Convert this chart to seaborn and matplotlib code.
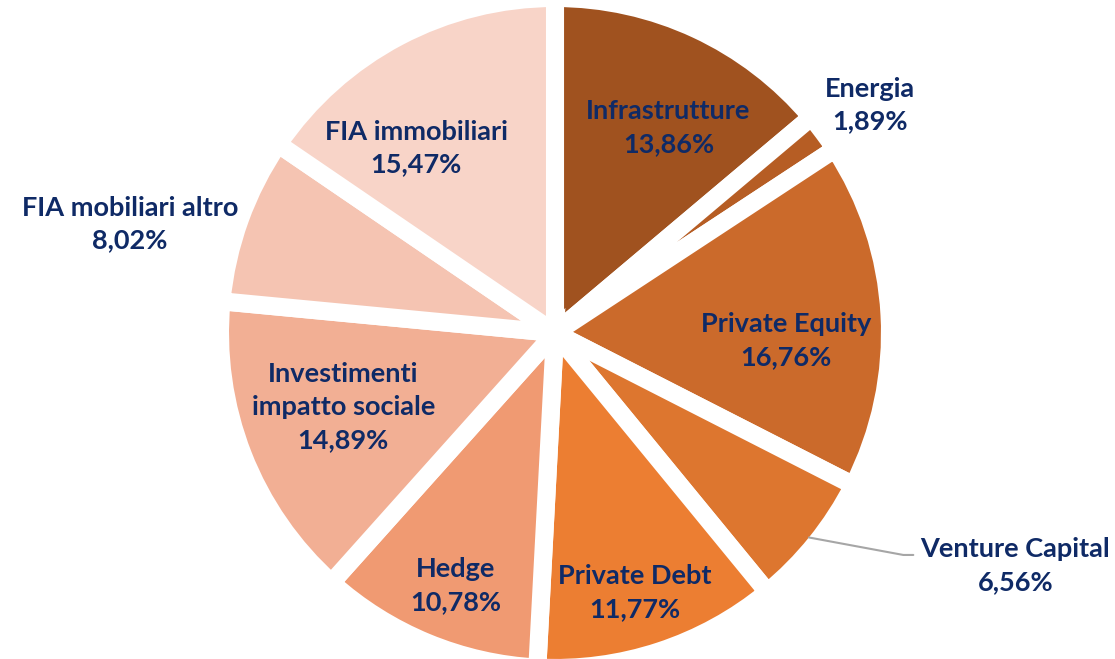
import numpy as np
import matplotlib
matplotlib.use("Agg")
import matplotlib.pyplot as plt
import seaborn as sns

categories = ["Infrastrutture", "Energia", "Private Equity", "Venture Capital",
              "Private Debt", "Hedge", "Investimenti\nimpatto sociale",
              "FIA mobiliari altro", "FIA immobiliari"]
values = [13.86, 1.89, 16.76, 6.56, 11.77, 10.78, 14.89, 8.02, 15.47]
pct_labels = ["13,86%", "1,89%", "16,76%", "6,56%", "11,77%", "10,78%",
              "14,89%", "8,02%", "15,47%"]
colors = ["#A0521F", "#B65D24", "#CB6A2B", "#DD762F", "#EC7E32",
          "#F09A72", "#F2AF94", "#F5C4B2", "#F8D4C8"]

sns.set_theme(style="white")
plt.rcParams['font.family'] = ['Lato', 'DejaVu Sans']

W, H = 1115, 659
fig = plt.figure(figsize=(W / 100, H / 100), dpi=100)
ax = fig.add_axes([0, 0, 1, 1])

cx, cy = 555, H - 333
R = 335
wedges, _ = ax.pie(values, colors=colors, startangle=90, counterclock=False,
                   center=(cx, cy), radius=R,
                   wedgeprops=dict(edgecolor="white", linewidth=13))
ax.set_xlim(0, W)
ax.set_ylim(0, H)
ax.set_aspect("equal")
ax.axis("off")

# label placement: radial distance (fraction of R) and angular tweak (deg)
dist = [0.70, 1.16, 0.69, 1.54, 0.81, 0.81, 0.67, 1.31, 0.69]
dang = [-4, -0.8, -5, 12, -1, 1, -2, 5.5, 9]
txt_color = "#0F2A66"
for i, w in enumerate(wedges):
    ang = np.deg2rad((w.theta1 + w.theta2) / 2 + dang[i])
    x = cx + dist[i] * R * np.cos(ang)
    y = cy + dist[i] * R * np.sin(ang)
    ax.text(x, y, f"{categories[i]}\n{pct_labels[i]}", ha="center", va="center",
            fontsize=19.5, fontweight="bold", color=txt_color, linespacing=1.45)
    if i == 3:
        mid = np.deg2rad((w.theta1 + w.theta2) / 2)
        x0 = cx + (R - 9) * np.cos(mid)
        y0 = cy + (R - 9) * np.sin(mid)
        ax.plot([x0, x - 112, x - 102], [y0, y + 11, y + 11],
                color="#A6A6A6", lw=1.5, solid_capstyle="round")

fig.savefig("out.png", dpi=100)
